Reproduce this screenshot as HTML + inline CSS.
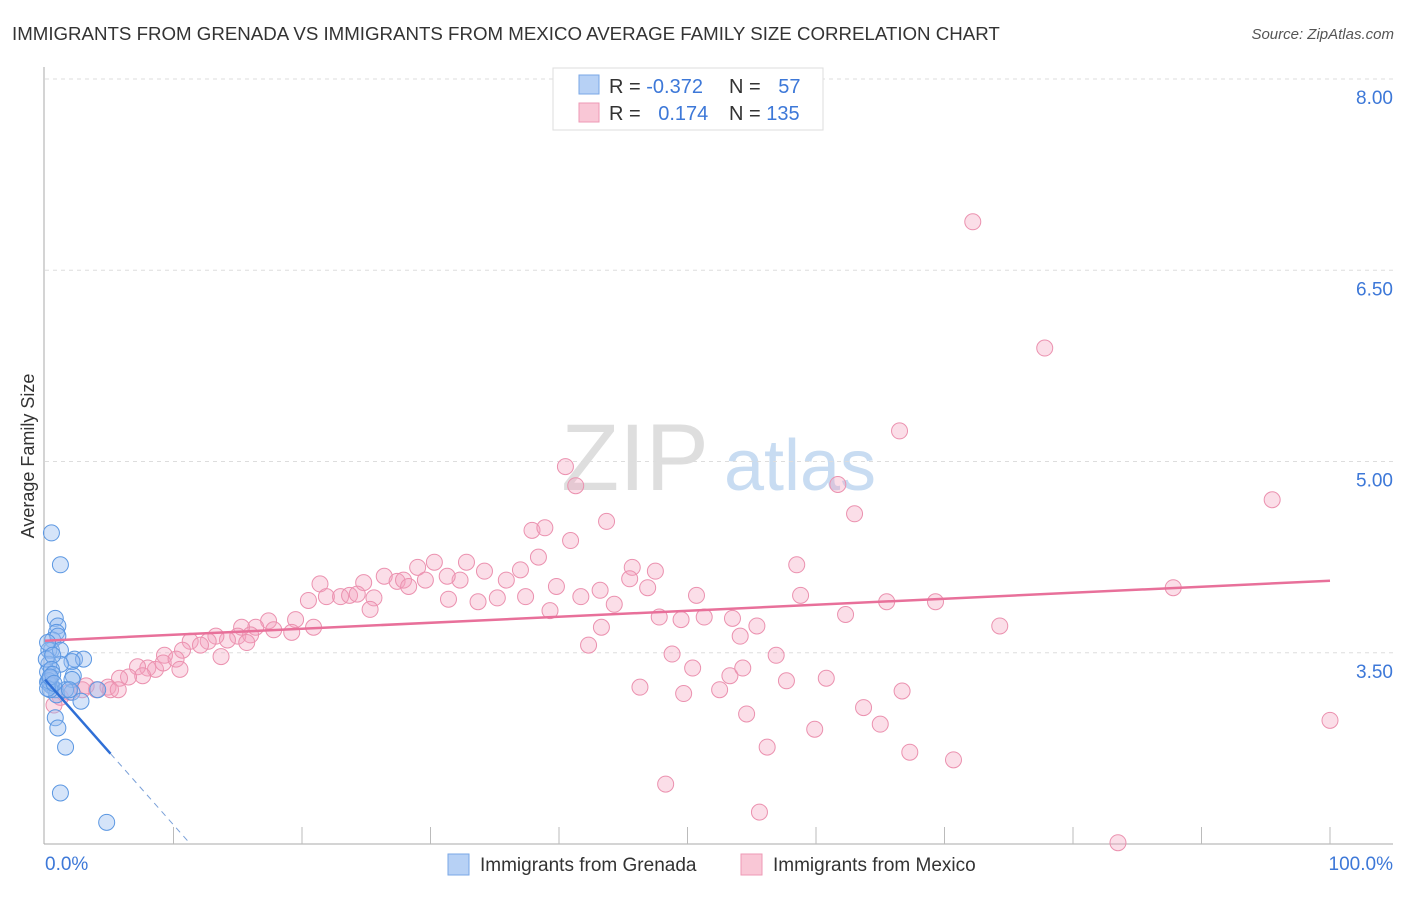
<!DOCTYPE html>
<html><head><meta charset="utf-8"><style>
body{margin:0;background:#fff;font-family:"Liberation Sans",sans-serif;}
svg text{font-family:"Liberation Sans",sans-serif;}
</style></head><body>
<svg id="chart" width="1406" height="892" xmlns="http://www.w3.org/2000/svg">
<text x="12" y="40" font-size="18.7" fill="#333">IMMIGRANTS FROM GRENADA VS IMMIGRANTS FROM MEXICO AVERAGE FAMILY SIZE CORRELATION CHART</text>
<text x="1394" y="39" font-size="15" fill="#555" text-anchor="end" font-style="italic">Source: ZipAtlas.com</text>
<g>
<text x="635" y="490" font-size="95" fill="#dedede" text-anchor="middle" font-family="Liberation Serif, serif">ZIP</text>
<text x="800" y="490" font-size="72" fill="#c8dcf2" text-anchor="middle">atlas</text>
</g>
<g id="grid"></g>
<g id="axes"></g>
<g id="pts"></g>
<g id="trends"></g>
<text transform="translate(34,456) rotate(-90)" font-size="18" fill="#333" text-anchor="middle">Average Family Size</text>
<g>
<rect x="553" y="68" width="270" height="62" fill="#fff" stroke="#ddd"/>
<rect x="579" y="75" width="20" height="19" fill="#b7d1f5" stroke="#7aa7e6"/>
<rect x="579" y="103" width="20" height="19" fill="#f9c7d6" stroke="#ee9ab5"/>
<text x="609" y="93" font-size="20" fill="#333">R = <tspan fill="#3d78d8">-0.372</tspan></text>
<text x="729" y="93" font-size="20" fill="#333">N = <tspan fill="#3d78d8" dx="12">57</tspan></text>
<text x="609" y="120" font-size="20" fill="#333">R = <tspan fill="#3d78d8" dx="12">0.174</tspan></text>
<text x="729" y="120" font-size="20" fill="#333">N = <tspan fill="#3d78d8">135</tspan></text>
</g>
<g>
<rect x="448" y="854" width="21" height="21" fill="#b7d1f5" stroke="#7aa7e6"/>
<text x="480" y="871" font-size="19" fill="#333">Immigrants from Grenada</text>
<rect x="741" y="854" width="21" height="21" fill="#f9c7d6" stroke="#ee9ab5"/>
<text x="773" y="871" font-size="19" fill="#333">Immigrants from Mexico</text>
</g>
</svg>
<script>
const yTicks=[3.5,5.0,6.5,8.0];
const yTickLabels=["3.50","5.00","6.50","8.00"];
const xTickLabels=["0.0%","100.0%"];
const mexX=[72.2,77.8,66.5,40.5,41.3,61.7,95.5,63.0,43.7,37.9,38.9,40.9,38.4,58.5,30.3,29.0,32.8,34.2,45.7,47.5,45.5,37.0,32.3,35.9,26.4,27.4,27.9,21.4,24.8,39.8,87.8,43.2,41.7,50.7,58.8,46.9,28.3,31.4,33.7,35.2,37.4,31.3,29.6,21.9,23.0,23.7,24.3,25.6,20.5,25.3,39.3,44.3,65.5,69.3,51.3,47.8,49.5,53.5,55.4,62.3,74.3,19.5,20.9,17.4,16.4,17.8,15.3,19.2,15.0,14.2,16.0,13.3,12.7,11.3,12.1,10.7,9.3,15.7,43.3,54.1,42.3,48.8,56.9,8.0,8.6,7.2,9.2,10.2,10.5,13.7,7.6,6.5,5.8,4.9,4.0,2.9,1.9,1.2,3.2,50.4,53.3,54.3,57.7,60.8,46.3,49.7,52.5,66.7,63.7,54.6,65.0,59.9,56.2,67.3,70.7,48.3,55.6,83.5,100,0.7,5.1,5.7];
const mexY=[6.88,5.89,5.24,4.96,4.81,4.82,4.70,4.59,4.53,4.46,4.48,4.38,4.25,4.19,4.21,4.17,4.21,4.14,4.17,4.14,4.08,4.15,4.07,4.07,4.10,4.06,4.07,4.04,4.05,4.02,4.01,3.99,3.94,3.95,3.95,4.01,4.02,3.92,3.90,3.93,3.94,4.10,4.07,3.94,3.94,3.95,3.96,3.93,3.91,3.84,3.83,3.88,3.90,3.90,3.78,3.78,3.76,3.77,3.71,3.80,3.71,3.76,3.70,3.75,3.70,3.68,3.70,3.66,3.63,3.60,3.64,3.63,3.59,3.59,3.56,3.52,3.48,3.58,3.70,3.63,3.56,3.49,3.48,3.38,3.37,3.39,3.42,3.45,3.37,3.47,3.32,3.31,3.30,3.23,3.21,3.21,3.19,3.15,3.24,3.38,3.32,3.38,3.28,3.30,3.23,3.18,3.21,3.20,3.07,3.02,2.94,2.90,2.76,2.72,2.66,2.47,2.25,2.01,2.97,3.09,3.21,3.21];
const grenX=[0.5,1.2,0.8,1.0,0.9,0.6,1.0,0.5,0.3,1.2,2.3,3.0,2.1,1.2,0.3,0.2,0.4,2.2,2.1,0.4,0.8,0.5,0.2,0.9,2.1,2.8,0.8,1.0,1.6,1.2,4.8,4.1,1.6,1.9,0.1,0.2,0.6,0.4,0.5,0.3,0.6,0.2,0.4,0.7];
const grenY=[4.44,4.19,3.77,3.71,3.66,3.60,3.63,3.52,3.52,3.52,3.45,3.45,3.43,3.41,3.41,3.35,3.30,3.32,3.29,3.25,3.21,3.24,3.27,3.17,3.19,3.12,2.99,2.91,2.76,2.40,2.17,3.21,3.21,3.21,3.45,3.58,3.48,3.21,3.37,3.28,3.33,3.22,3.31,3.26];
const mexTrend=[3.594,4.065];
const grenTrend=[3.29,-0.114];
const NS="http://www.w3.org/2000/svg";
const X0=45,X1=1330,YB=844,PX=127.5;
const sx=v=>X0+v/100*(X1-X0);
const sy=v=>YB-(v-2.0)*PX;
function mk(t,a,p){const e=document.createElementNS(NS,t);for(const k in a)e.setAttribute(k,a[k]);p.appendChild(e);return e;}
const grid=document.getElementById('grid'),axes=document.getElementById('axes');
yTicks.forEach((t,i)=>{
  const l=mk('line',{x1:X0,x2:1393,y1:sy(t),y2:sy(t),stroke:'#ddd','stroke-dasharray':'4,4'},grid);
  
  
  const tx=mk('text',{x:1393,y:sy(t)+25,'font-size':19,fill:'#3d78d8','text-anchor':'end'},axes);
  tx.textContent=yTickLabels[i];
  
  
});
mk('line',{x1:44,x2:44,y1:67,y2:YB,stroke:'#aaa'},axes);
mk('line',{x1:44,x2:1393,y1:YB,y2:YB,stroke:'#aaa'},axes);
for(let i=1;i<=10;i++){const x=sx(i*10);mk('line',{x1:x,x2:x,y1:YB-17,y2:YB,stroke:'#bbb'},axes);}
const xl0=mk('text',{x:45,y:870,'font-size':19,fill:'#3d78d8'},axes);xl0.textContent=xTickLabels[0];


const xl1=mk('text',{x:1393,y:870,'font-size':19,fill:'#3d78d8','text-anchor':'end'},axes);xl1.textContent=xTickLabels[1];


const pts=document.getElementById('pts');
mexX.forEach((x,i)=>{const c=mk('circle',{cx:sx(x),cy:sy(mexY[i]),r:8,fill:'rgba(244,160,188,0.35)',stroke:'#eb91af','stroke-width':1},pts);

});
grenX.forEach((x,i)=>{const c=mk('circle',{cx:sx(x),cy:sy(grenY[i]),r:8,fill:'rgba(150,188,240,0.4)',stroke:'#5b97e2','stroke-width':1},pts);

});
const tr=document.getElementById('trends');
const ml=mk('line',{x1:sx(0),y1:sy(mexTrend[0]),x2:sx(100),y2:sy(mexTrend[1]),stroke:'#e8709a','stroke-width':2.5},tr);


const gEnd=5.1, gZero=(2.0-grenTrend[0])/grenTrend[1];
const gl=mk('line',{x1:sx(0),y1:sy(grenTrend[0]),x2:sx(gEnd),y2:sy(grenTrend[0]+grenTrend[1]*gEnd),stroke:'#2f6fd6','stroke-width':2.5},tr);


const gd=mk('line',{x1:sx(gEnd),y1:sy(grenTrend[0]+grenTrend[1]*gEnd),x2:sx(gZero),y2:sy(2.0),stroke:'#7aa0d8','stroke-width':1,'stroke-dasharray':'6,5'},tr);


</script>
</body></html>
